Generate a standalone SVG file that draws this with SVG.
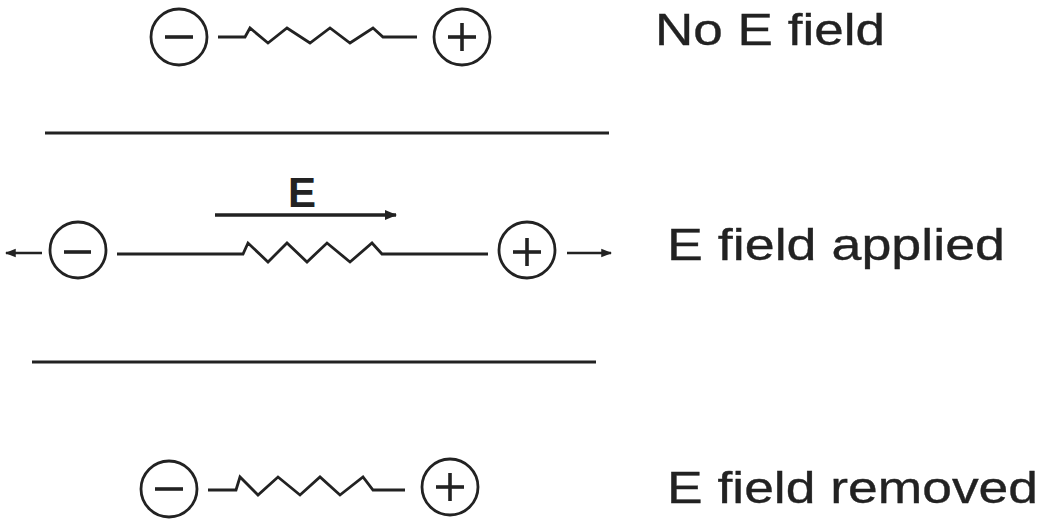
<svg xmlns="http://www.w3.org/2000/svg" width="1051" height="527" viewBox="0 0 1051 527">
  <defs>
    <marker id="head" viewBox="0 0 10 10" refX="9" refY="5" markerWidth="4.5" markerHeight="4.5" orient="auto" markerUnits="strokeWidth">
      <path d="M0,1 L10,5 L0,9 z" fill="#222"/>
    </marker>
    <marker id="headE" viewBox="0 0 10 10" refX="9" refY="5" markerWidth="3.6" markerHeight="3.6" orient="auto" markerUnits="strokeWidth">
      <path d="M0,1 L10,5 L0,9 z" fill="#222"/>
    </marker>
  </defs>
  <style>
    .ring { fill: none; stroke: #222; stroke-width: 2.8; }
    .sign { stroke: #222; stroke-width: 3.6; stroke-linecap: butt; }
    .wire { fill: none; stroke: #222; stroke-width: 2.8; stroke-linejoin: miter; }
    .plate { stroke: #222; stroke-width: 3; }
    .label { font-family: "Liberation Sans", Arial, sans-serif; font-size: 45px; fill: #222; stroke: #222; stroke-width: 0.35; }
    .field { font-family: "Liberation Sans", Arial, sans-serif; font-size: 42px; font-weight: bold; fill: #222; }
  </style>
  <rect width="1051" height="527" fill="#fff"/>

  <!-- dipole with no field -->
  <g id="dipole-rest-top">
    <circle class="ring" cx="179" cy="37" r="28"/>
    <line class="sign" x1="165" y1="37" x2="193" y2="37"/>
    <circle class="ring" cx="462" cy="37" r="28"/>
    <line class="sign" x1="448" y1="37" x2="476" y2="37"/>
    <line class="sign" x1="462" y1="23" x2="462" y2="51"/>
    <polyline class="wire" points="218,37 245,37 250,28 268,43 287,28 310,43 330,28 350,43 373,28 383,37 417,37"/>
  </g>
  <text id="label-no-field" class="label" x="655" y="45" textLength="230" lengthAdjust="spacingAndGlyphs">No E field</text>

  <!-- capacitor plates -->
  <g id="plates">
    <line class="plate" x1="45" y1="133" x2="609" y2="133"/>
    <line class="plate" x1="32" y1="362" x2="596" y2="362"/>
  </g>

  <!-- applied field -->
  <g id="field-arrow">
    <text class="field" x="302" y="207" text-anchor="middle">E</text>
    <line x1="215" y1="215" x2="396" y2="215" stroke="#222" stroke-width="3.5" marker-end="url(#headE)"/>
  </g>

  <!-- stretched dipole -->
  <g id="dipole-stretched">
    <circle class="ring" cx="78" cy="250" r="28"/>
    <line class="sign" x1="64" y1="252" x2="91" y2="252"/>
    <circle class="ring" cx="527" cy="250" r="28"/>
    <line class="sign" x1="513" y1="252" x2="541" y2="252"/>
    <line class="sign" x1="527" y1="238" x2="527" y2="266"/>
    <polyline class="wire" points="117,254 243,254 248,243 268,262 287,243 307,262 327,243 350,262 372,243 382,254 488,254"/>
  </g>
  <g id="connectors">
    <line x1="42" y1="253" x2="6" y2="253" stroke="#222" stroke-width="2.4" marker-end="url(#head)"/>
    <line x1="567" y1="253" x2="611" y2="253" stroke="#222" stroke-width="2.4" marker-end="url(#head)"/>
  </g>
  <text id="label-applied" class="label" x="667" y="260" textLength="338" lengthAdjust="spacingAndGlyphs">E field  applied</text>

  <!-- dipole after field removed -->
  <g id="dipole-rest-bottom">
    <circle class="ring" cx="169" cy="489" r="28"/>
    <line class="sign" x1="155" y1="489" x2="183" y2="489"/>
    <circle class="ring" cx="450" cy="487" r="28"/>
    <line class="sign" x1="436" y1="487" x2="464" y2="487"/>
    <line class="sign" x1="450" y1="473" x2="450" y2="501"/>
    <polyline class="wire" points="208,490 236,490 240,477 258,495 278,477 300,495 320,477 340,495 363,477 373,490 405,490"/>
  </g>
  <text id="label-removed" class="label" x="667" y="503" textLength="371" lengthAdjust="spacingAndGlyphs">E field  removed</text>
</svg>
